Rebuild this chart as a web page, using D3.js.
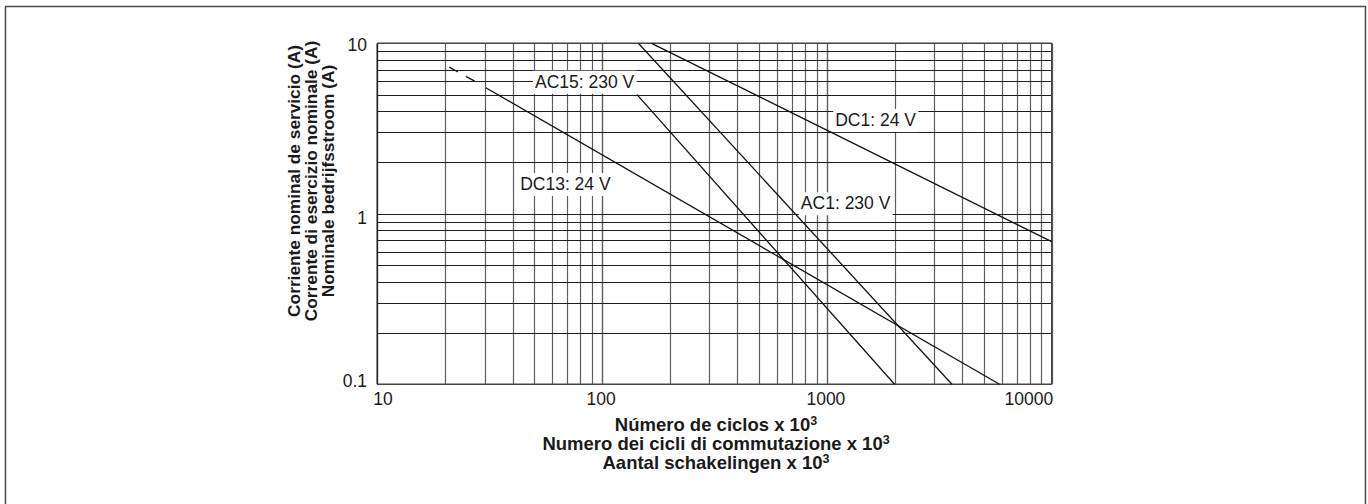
<!DOCTYPE html>
<html><head><meta charset="utf-8">
<script src="https://cdn.jsdelivr.net/npm/d3@7"></script>
<style>
body{margin:0;background:#fff;}
text{font-family:"Liberation Sans",Arial,Helvetica,sans-serif;fill:#1a1a1a;}
</style></head>
<body><svg id="c" width="1368" height="504"></svg>
<script>
// ---- data ----
const xTickValues = [10, 100, 1000, 10000];
const xTickLabels = ["10", "100", "1000", "10000"];
const yTickValues = [0.1, 1, 10];
const yTickLabels = ["0.1", "1", "10"];
const seriesNames = ["AC15: 230 V", "AC1: 230 V", "DC1: 24 V", "DC13: 24 V"];
const ac15 = [[143, 5.0], [2000, 0.1]];
const ac1 = [[145, 10], [3600, 0.1]];
const dc1 = [[166, 10], [10000, 0.686]];
const dc13 = [[30.4, 5.49], [5860, 0.1]];
const dc13Dashed = [[20.9, 7.25], [27.7, 5.9]];
const labelAnchors = [[50.3, 5.49], [766, 1.063], [1089, 3.27], [43.2, 1.379]]; // label left edge / baseline
const yTitle = ["Corriente nominal de servicio (A)", "Corrente di esercizio nominale (A)", "Nominale bedrijfsstroom (A)"];
const xTitle = ["Número de ciclos x 10", "Numero dei cicli di commutazione x 10", "Aantal schakelingen x 10"];

const svg = d3.select("#c");
const L = 377.3, R = 1051.7, T = 43.3, B = 384.3;
const x = d3.scaleLog().domain([10, 10000]).range([L, R]);
const y = d3.scaleLog().domain([0.1, 10]).range([B, T]);

// outer frame
svg.append("rect").attr("x", 5.5).attr("y", 6.5).attr("width", 1360).attr("height", 520)
  .attr("fill", "none").attr("stroke", "#4a4a4a").attr("stroke-width", 1.5);

// grid
const xMinor = [];
for (let d = 10; d < 10000; d *= 10) for (let k = 1; k <= 10; k++) xMinor.push(d * k);
const yMinor = [];
for (let d = 0.1; d < 9.9; d *= 10) for (let k = 1; k <= 10; k++) yMinor.push(+(d * k).toFixed(3));
const g = svg.append("g");
g.selectAll("line.v").data(xMinor).join("line").attr("class", "v")
  .attr("x1", d => Math.round(x(d)) + 0.5).attr("x2", d => Math.round(x(d)) + 0.5)
  .attr("y1", T).attr("y2", B).attr("stroke", "#5e5e5e").attr("stroke-width", 1.2);
g.selectAll("line.h").data(yMinor).join("line").attr("class", "h")
  .attr("y1", d => Math.round(y(d)) + 0.5).attr("y2", d => Math.round(y(d)) + 0.5)
  .attr("x1", L).attr("x2", R).attr("stroke", "#1e1e1e").attr("stroke-width", 1.1);
// axis lines
g.append("line").attr("x1", L).attr("x2", L).attr("y1", T).attr("y2", B).attr("stroke", "#222").attr("stroke-width", 1.6);
g.append("line").attr("x1", L).attr("x2", R).attr("y1", B).attr("y2", B).attr("stroke", "#444").attr("stroke-width", 1.6);
g.append("line").attr("x1", L).attr("x2", R).attr("y1", T).attr("y2", T).attr("stroke", "#444").attr("stroke-width", 1.4);
g.append("line").attr("x1", R).attr("x2", R).attr("y1", T).attr("y2", B).attr("stroke", "#444").attr("stroke-width", 1.4);

// curves
const line = d3.line().x(d => x(d[0])).y(d => y(d[1]));
const curves = svg.append("g").attr("fill", "none").attr("stroke", "#111").attr("stroke-width", 1.3);
[ac15, ac1, dc1, dc13].forEach(s => curves.append("path").attr("d", line(s)));
curves.append("path").attr("d", line(dc13Dashed)).attr("stroke-dasharray", "10,9");

// curve labels with white boxes
const lg = svg.append("g");
labelAnchors.forEach((a, i) => {
  const t = lg.append("text").attr("x", x(a[0])).attr("y", y(a[1]))
    .attr("font-size", 17.5).text(seriesNames[i]);
  const bb = t.node().getBBox();
  lg.insert("rect", "text").attr("x", bb.x - 2).attr("y", bb.y - 1)
    .attr("width", bb.width + 4).attr("height", bb.height + 3).attr("fill", "#fff");
});

// x tick labels
svg.append("g").selectAll("text").data(xTickValues).join("text")
  .attr("x", (d, i) => i === 0 ? x(d) - 4 : (i === xTickValues.length - 1 ? x(d) + 1.5 : x(d) - 1))
  .attr("y", 405)
  .attr("text-anchor", (d, i) => i === 0 ? "start" : (i === xTickValues.length - 1 ? "end" : "middle"))
  .attr("font-size", 17.5).text((d, i) => xTickLabels[i]);
// y tick labels
const yOff = [2.4, 10, 7.5];
svg.append("g").selectAll("text").data(yTickValues).join("text")
  .attr("x", 367).attr("y", (d, i) => y(d) + yOff[i])
  .attr("text-anchor", "end").attr("font-size", 17.5).text((d, i) => yTickLabels[i]);

// y title
const yt = svg.append("g").attr("transform", "translate(0,181)");
yTitle.forEach((s, i) => {
  yt.append("text").attr("transform", `translate(${300 + i * 17},0) rotate(-90)`)
    .attr("text-anchor", "middle").attr("font-size", 17.3).attr("font-weight", "bold").text(s);
});
// x title
const xc = 716;
xTitle.forEach((s, i) => {
  const t = svg.append("text").attr("x", xc).attr("y", 431 + i * 19)
    .attr("text-anchor", "middle").attr("font-size", 18.5).attr("font-weight", "bold");
  t.append("tspan").text(s);
  t.append("tspan").attr("font-size", 12.5).attr("dy", -6).text("3");
});
</script></body></html>
